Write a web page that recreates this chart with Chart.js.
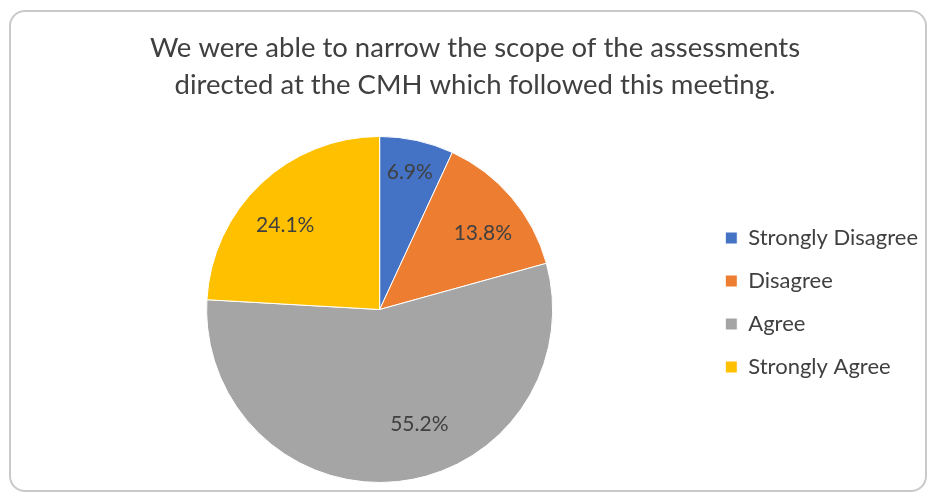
<!DOCTYPE html>
<html lang="en">
<head>
  <meta charset="UTF-8">
  <title>CMH meeting survey</title>
  <script src="https://cdn.jsdelivr.net/npm/chart.js"></script>
  <style>
    body {
      margin: 0;
      background: #fff;
    }
    .wrap {
      position: relative;
      width: 929px;
      height: 493px;
    }
    .frame {
      position: absolute;
      left: 9px;
      top: 10px;
      width: 914px;
      height: 478px;
      border: 2px solid #c9c9c9;
      border-radius: 16px;
      pointer-events: none;
    }
    canvas {
      position: absolute;
      left: 0;
      top: 0;
    }
  </style>
</head>
<body>
  <div class="wrap">
    <canvas id="pie" width="929" height="493"></canvas>
    <div class="frame"></div>
  </div>

  <script>
    const titleLines = [
      'We were able to narrow the scope of the assessments',
      'directed at the CMH which followed this meeting.'
    ];
    const categories = ['Strongly Disagree', 'Disagree', 'Agree', 'Strongly Agree'];
    const percents = [6.9, 13.8, 55.2, 24.1];
    const sliceColors = ['#4472C4', '#ED7D31', '#A5A5A5', '#FFC000'];

    const textColor = '#404040';
    const fontFamily = 'Lato, "Liberation Sans", sans-serif';

    // where each label sits: share of the radius, and a small turn (degrees) off the mid angle
    const labelRadius = [0.81, 0.74, 0.70, 0.73];
    const labelTurn = [0, 4, -13, -5];

    // draws the percentage inside each slice
    const sliceLabels = {
      id: 'sliceLabels',
      afterLayout(chart) {
        // the title sits a bit left of the canvas middle in the original
        chart.titleBlock.left -= 33;
      },
      afterDatasetsDraw(chart) {
        const ctx = chart.ctx;
        const meta = chart.getDatasetMeta(0);
        ctx.save();
        ctx.font = '21px ' + fontFamily;
        ctx.fillStyle = textColor;
        ctx.textAlign = 'center';
        ctx.textBaseline = 'middle';
        meta.data.forEach((arc, i) => {
          const p = arc.getProps(['x', 'y', 'startAngle', 'endAngle', 'outerRadius'], true);
          const mid = (p.startAngle + p.endAngle) / 2 + labelTurn[i] * Math.PI / 180;
          const r = p.outerRadius * labelRadius[i];
          ctx.fillText(percents[i].toFixed(1) + '%', p.x + Math.cos(mid) * r, p.y + Math.sin(mid) * r);
        });
        ctx.restore();
      }
    };

    new Chart(document.getElementById('pie'), {
      type: 'pie',
      data: {
        labels: categories,
        datasets: [{
          data: percents,
          backgroundColor: sliceColors,
          borderColor: '#ffffff',
          borderWidth: 1
        }]
      },
      options: {
        responsive: false,
        animation: false,
        layout: {
          padding: { left: 55, right: 1, top: 30, bottom: 10 }
        },
        plugins: {
          title: {
            display: true,
            text: titleLines,
            color: textColor,
            font: { family: fontFamily, size: 27.5, weight: 'normal', lineHeight: 1.345 },
            padding: { top: 0, bottom: 32 }
          },
          legend: {
            position: 'right',
            title: {
              display: true,
              text: '',
              font: { size: 10, lineHeight: 1.2 },
              padding: { top: 0, bottom: 80 }
            },
            labels: {
              color: textColor,
              font: { family: fontFamily, size: 22 },
              boxWidth: 12,
              boxHeight: 12,
              padding: 21
            }
          },
          tooltip: { enabled: false }
        }
      },
      plugins: [sliceLabels]
    });
  </script>
</body>
</html>
